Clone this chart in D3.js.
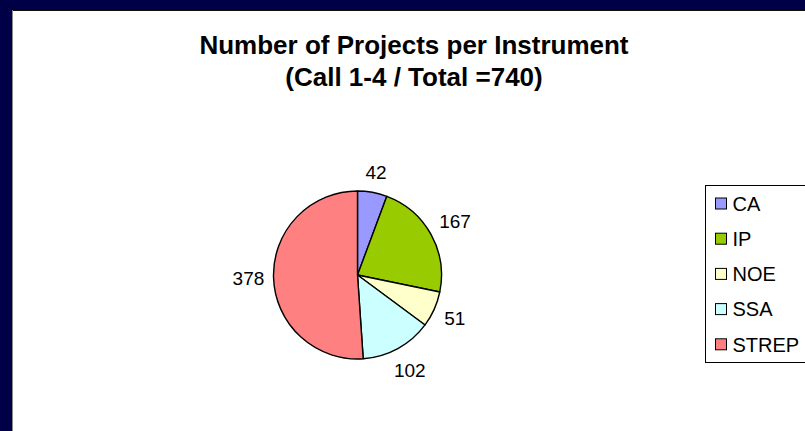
<!DOCTYPE html>
<html>
<head>
<meta charset="utf-8">
<script src="https://cdn.jsdelivr.net/npm/d3@7"></script>
<style>
  html, body { margin: 0; padding: 0; background: #000046; }
  svg { display: block; font-family: "Liberation Sans", Arial, sans-serif; }
</style>
</head>
<body>
<div id="chart"></div>
<script>
const instruments = ['CA', 'IP', 'NOE', 'SSA', 'STREP'];
const projects = [42, 167, 51, 102, 378];
const colors = ['#9999FF', '#99CC00', '#FFFFCC', '#CCFFFF', '#FF8080'];
const titleLines = ['Number of Projects per Instrument', '(Call 1-4 / Total =740)'];

const width = 805, height = 431;
const cx = 357.5, cy = 275, radius = 84;

const svg = d3.select('#chart')
              .append('svg')
              .attr('width', width)
              .attr('height', height);

// navy frame + white plot area
svg.append('rect')
   .attr('width', width)
   .attr('height', height)
   .attr('fill', '#000046');

svg.append('rect')
   .attr('x', 12)
   .attr('y', 10)
   .attr('width', width)
   .attr('height', height)
   .attr('fill', '#fff');

svg.append('line')
   .attr('x1', 12).attr('x2', width)
   .attr('y1', 10.5).attr('y2', 10.5)
   .attr('stroke', '#111').attr('stroke-width', 1);

svg.append('line')
   .attr('x1', 12.5).attr('x2', 12.5)
   .attr('y1', 10).attr('y2', height)
   .attr('stroke', '#888').attr('stroke-width', 1);

// title
svg.append('text')
   .attr('x', 414)
   .attr('y', 54)
   .attr('text-anchor', 'middle')
   .attr('font-size', 26)
   .attr('font-weight', 'bold')
   .selectAll('tspan')
   .data(titleLines)
   .enter()
   .append('tspan')
   .attr('x', 414)
   .attr('dy', (d, i) => i === 0 ? 0 : 32)
   .text(d => d);

const color = d3.scaleOrdinal()
                .domain(instruments)
                .range(colors);

const pie = d3.pie()
              .sort(null)
              .value(d => d);

const arcs = pie(projects);

const arc = d3.arc()
              .innerRadius(0)
              .outerRadius(radius);

const g = svg.append('g')
             .attr('transform', `translate(${cx}, ${cy})`);

g.selectAll('path')
 .data(arcs)
 .enter()
 .append('path')
 .attr('d', arc)
 .attr('fill', (d, i) => color(instruments[i]))
 .attr('stroke', '#000')
 .attr('stroke-width', 1.4)
 .attr('stroke-linejoin', 'round');

// data labels, pushed just outside the rim
const labelSize = 19;
const gap = 9;
g.selectAll('text.label')
 .data(arcs)
 .enter()
 .append('text')
 .attr('class', 'label')
 .attr('font-size', labelSize)
 .attr('text-anchor', 'middle')
 .attr('dy', '0.35em')
 .attr('transform', d => {
   const a = (d.startAngle + d.endAngle) / 2;
   const w = String(d.data).length * 0.556 * labelSize;
   const h = labelSize;
   const r = radius + gap + Math.abs(Math.sin(a)) * w / 2 + Math.abs(Math.cos(a)) * h / 2;
   return `translate(${Math.sin(a) * r}, ${-Math.cos(a) * r})`;
 })
 .text(d => d.data);

// legend
const legendX = 705.5, legendY = 185.5;
const rowStep = 35.2;

svg.append('rect')
   .attr('x', legendX)
   .attr('y', legendY)
   .attr('width', 120)
   .attr('height', 177)
   .attr('fill', '#fff')
   .attr('stroke', '#000')
   .attr('stroke-width', 1);

const rows = svg.selectAll('g.legend')
                .data(instruments)
                .enter()
                .append('g')
                .attr('class', 'legend')
                .attr('transform', (d, i) => `translate(${legendX + 10}, ${legendY + 18 + i * rowStep})`);

rows.append('rect')
    .attr('x', 0)
    .attr('y', -5.5)
    .attr('width', 11)
    .attr('height', 11)
    .attr('fill', d => color(d))
    .attr('stroke', '#000')
    .attr('stroke-width', 1);

rows.append('text')
    .attr('x', 17)
    .attr('dy', '0.36em')
    .attr('font-size', 20)
    .text(d => d);
</script>
</body>
</html>
